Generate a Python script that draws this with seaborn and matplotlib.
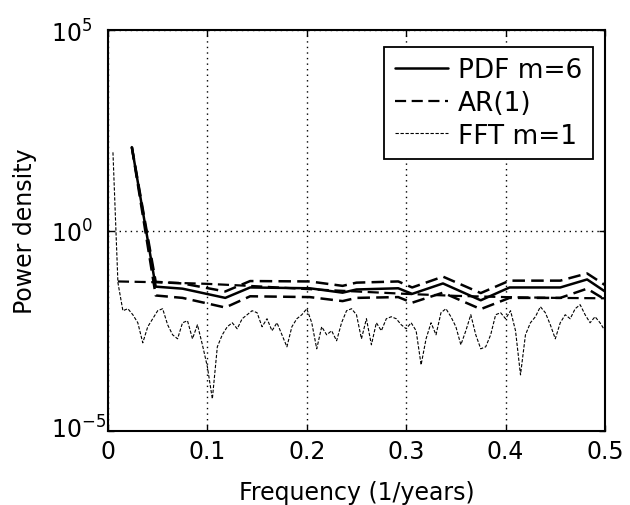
import numpy as np
import matplotlib
matplotlib.use("Agg")
import matplotlib.pyplot as plt
import matplotlib.transforms as mtransforms
import seaborn as sns

# ---------------- data (log10 of power density) ----------------
pdf_freq = [0.024, 0.048, 0.075, 0.118, 0.143, 0.203, 0.236, 0.25, 0.292, 0.306,
            0.337, 0.375, 0.404, 0.455, 0.482, 0.5]
pdf_log = [2.08, -1.40, -1.45, -1.68, -1.42, -1.44, -1.55, -1.47, -1.44, -1.58,
           -1.32, -1.74, -1.42, -1.42, -1.22, -1.52]
pdf_upper_log = [2.08, -1.28, -1.32, -1.52, -1.26, -1.27, -1.38, -1.30, -1.27, -1.42,
                 -1.15, -1.56, -1.25, -1.25, -1.07, -1.36]
pdf_lower_log = [2.08, -1.62, -1.68, -1.92, -1.64, -1.66, -1.76, -1.68, -1.66, -1.80,
                 -1.55, -1.96, -1.68, -1.68, -1.45, -1.72]

ar_freq = [0.01, 0.05, 0.1, 0.15, 0.2, 0.25, 0.3, 0.35, 0.4, 0.45, 0.5]
ar_log = [-1.27, -1.29, -1.33, -1.39, -1.46, -1.52, -1.58, -1.63, -1.66, -1.68, -1.69]

fft_freq = [round(0.005 * k, 3) for k in range(1, 101)]
fft_log = [1.95, -1.30, -2.00, -1.95, -2.10, -2.30, -2.80, -2.40, -2.20, -2.00,
           -1.95, -2.35, -2.60, -2.70, -2.30, -2.25, -2.70, -2.35, -2.85, -3.40,
           -4.20, -2.90, -2.60, -2.40, -2.30, -2.45, -2.20, -2.10, -2.00, -2.05,
           -2.40, -2.20, -2.50, -2.30, -2.60, -2.90, -2.40, -2.20, -2.10, -1.95,
           -2.30, -2.95, -2.40, -2.60, -2.50, -2.75, -2.30, -2.00, -1.95, -2.10,
           -2.70, -2.20, -2.85, -2.30, -2.50, -2.20, -2.15, -2.20, -2.35, -2.45,
           -2.30, -2.50, -3.35, -2.70, -2.30, -2.60, -2.05, -1.95, -2.15, -2.40,
           -2.85, -2.50, -2.10, -2.60, -2.95, -2.90, -2.60, -2.10, -2.05, -2.20,
           -2.00, -2.50, -3.60, -2.60, -2.30, -2.15, -1.90, -2.05, -2.35, -2.70,
           -2.30, -2.10, -2.20, -1.95, -1.85, -2.10, -2.30, -2.15, -2.30, -2.50]

x_ticks = [0, 0.1, 0.2, 0.3, 0.4, 0.5]
x_tick_labels = ["0", "0.1", "0.2", "0.3", "0.4", "0.5"]
y_ticks = [1e-5, 1e0, 1e5]
y_tick_labels = [r"$10^{-5}$", r"$10^{0}$", r"$10^{5}$"]

# ---------------- style ----------------
sns.set_style("ticks")
plt.rcParams["font.family"] = ["DejaVu Sans"]
plt.rcParams["mathtext.fontset"] = "dejavusans"

fig = plt.figure(figsize=(6.3, 5.06), dpi=100)
ax = fig.add_axes([0.1714, 0.1462, 0.7889, 0.7925])

pw = lambda v: 10 ** np.asarray(v, dtype=float)

# dashed band lines around PDF
sns.lineplot(x=pdf_freq, y=pw(pdf_upper_log), ax=ax, color="black", lw=1.8,
             linestyle=(0, (5, 2.5)), sort=False)
sns.lineplot(x=pdf_freq, y=pw(pdf_lower_log), ax=ax, color="black", lw=1.8,
             linestyle=(0, (5, 2.5)), sort=False)
# FFT m=1
sns.lineplot(x=fft_freq, y=pw(fft_log), ax=ax, color="black", lw=0.8,
             linestyle=(0, (3, 1.5)), sort=False, label="FFT m=1")
# AR(1)
sns.lineplot(x=ar_freq, y=pw(ar_log), ax=ax, color="black", lw=1.6,
             linestyle=(0, (5, 2.5)), sort=False, label="AR(1)")
# PDF m=6
sns.lineplot(x=pdf_freq, y=pw(pdf_log), ax=ax, color="black", lw=1.8,
             linestyle="-", sort=False, label="PDF m=6")

ax.set_yscale("log")
ax.set_xlim(0, 0.5)
ax.set_ylim(1e-5, 1e5)
ax.set_xticks(x_ticks)
ax.set_xticklabels(x_tick_labels)
ax.set_yticks(y_ticks)
ax.set_yticklabels(y_tick_labels)
ax.minorticks_off()
ax.tick_params(direction="in", length=4, width=1, top=True, right=True,
               labelsize=17, colors="black")
ax.tick_params(axis="x", pad=6)
ax.tick_params(axis="y", pad=41)
ylabels = ax.get_yticklabels()
for lbl in ylabels:
    lbl.set_horizontalalignment("left")
ylabels[0].set_verticalalignment("baseline")
ylabels[0].set_transform(ylabels[0].get_transform() +
                         mtransforms.ScaledTranslation(0, -4.5 / 72, fig.dpi_scale_trans))

for s in ax.spines.values():
    s.set_visible(True)
    s.set_color("black")
    s.set_linewidth(1.5)

ax.grid(True, which="major", color="black", linestyle=(0, (1, 3)), lw=1.0)

ax.set_xlabel("Frequency (1/years)", fontsize=17, labelpad=12, color="black")
ax.set_ylabel("Power density", fontsize=17, labelpad=10, color="black")

handles, labels = ax.get_legend_handles_labels()
order = [labels.index(l) for l in ["PDF m=6", "AR(1)", "FFT m=1"]]
leg = ax.legend([handles[i] for i in order], [labels[i] for i in order],
                loc="upper right", bbox_to_anchor=(0.976, 0.958),
                borderaxespad=0.0, fontsize=19, frameon=True, fancybox=False,
                edgecolor="black", framealpha=1, handlelength=2.0,
                labelspacing=0.25, handletextpad=0.4, borderpad=0.4)
leg.get_frame().set_linewidth(1.3)
for t in leg.get_texts():
    t.set_color("black")

fig.savefig("out.png", dpi=100)
